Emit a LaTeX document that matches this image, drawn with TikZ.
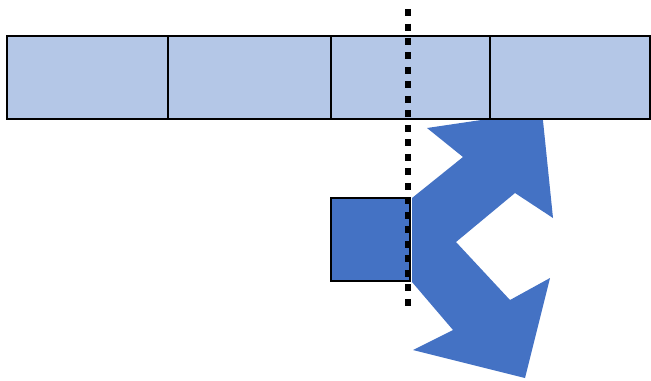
\documentclass[tikz,border=0pt]{standalone}
\usetikzlibrary{positioning}
\definecolor{cellblue}{RGB}{180,199,231}
\definecolor{arrowblue}{RGB}{68,114,196}
\tikzset{
  cell/.style={
    rectangle,
    draw=black,
    fill=cellblue,
    line width=1.1pt,
    minimum width=3.22cm,
    minimum height=1.66cm,
    inner sep=0pt,
    outer sep=0pt
  },
  block/.style={
    cell,
    fill=arrowblue,
    minimum width=1.58cm
  },
  cut line/.style={
    line width=3.4pt,
    dash pattern=on 0.14cm off 0.15cm
  }
}

\begin{document}
\begin{tikzpicture}[x=0.02cm, y=-0.02cm]
  \useasboundingbox (0,0) rectangle (651,380);

  % Split arrows leaving the block
  \fill[arrowblue] (412,198) -- (463,157) -- (427,128) -- (542,111)
    -- (553,218) -- (515,193) -- (456,242) -- (510,300) -- (550,278)
    -- (525,378) -- (413,350) -- (453,330) -- (412,282) -- cycle;

  % Block
  \node[block] (blk) at (370.5,239.5) {};

  % Row of cells
  \node[cell] (c1) at (87.5,77.5) {};
  \node[cell, right=0pt of c1, minimum width=3.26cm] (c2) {};
  \node[cell, right=0pt of c2, minimum width=3.18cm] (c3) {};
  \node[cell, right=0pt of c3, minimum width=3.2cm] (c4) {};

  % Cut line
  \coordinate (cuttop) at (408,9);
  \coordinate (cutbot) at (408,306);
  \draw[cut line] (cuttop) -- (cutbot);
\end{tikzpicture}
\end{document}
